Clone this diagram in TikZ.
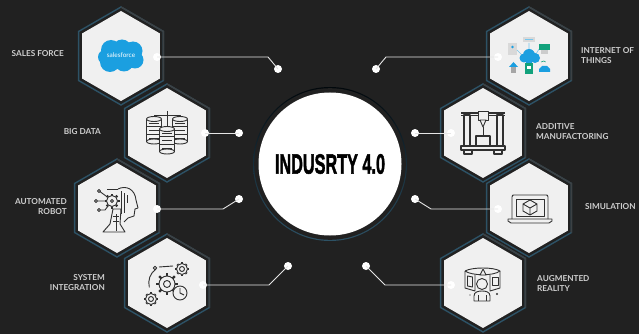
\documentclass[tikz,border=0pt]{standalone}
\usepackage{fontspec}
\setmainfont{Lato}
\newfontfamily\titlefont[BoldFeatures={FakeBold=2}]{Liberation Sans}
\usetikzlibrary{shapes.geometric}
\definecolor{bgc}{HTML}{212121}
\definecolor{hexfill}{HTML}{F0F0F0}
\definecolor{teal1}{HTML}{2D5266}
\definecolor{gray1}{HTML}{3C4144}
\definecolor{labelc}{HTML}{CFCFCF}
\definecolor{ink}{HTML}{303030}
\definecolor{sfblue}{HTML}{1B9FE0}
\definecolor{iotgreen}{HTML}{12A27C}
\tikzset{
 outerhex/.style={regular polygon,regular polygon sides=6,regular polygon rotate=-30,minimum size=98pt,inner sep=0pt,outer sep=0pt,draw=teal1,line width=1.4pt},
 innerhex/.style={regular polygon,regular polygon sides=6,regular polygon rotate=-30,minimum size=90pt,inner sep=0pt,outer sep=0pt,fill=hexfill},
 dotnode/.style={circle,fill=white,minimum size=8pt,inner sep=0pt},
 startdot/.style={circle,fill=white,minimum size=8pt,inner sep=0pt},
 link/.style={draw=white!90!black,line width=.9pt},
 lab/.style={text=labelc,font=\fontsize{8.2}{10}\selectfont\bfseries,inner sep=0pt},
 labl/.style={lab,anchor=west,align=left},
 labr/.style={lab,anchor=east,align=right},
 ic/.style={draw=ink,line width=.9pt,line join=round,fill=none},
 icf/.style={draw=ink,line width=.9pt,line join=round,fill=hexfill},
}
\newcommand{\hexa}[3]{%
 \node[outerhex] (#1o) at (#2,#3) {};
 \draw[gray1,line width=1.4pt] (#1o.corner 2) -- (#1o.corner 1) -- (#1o.corner 6);
 \node[innerhex] (#1) at (#2,#3) {};
}
\newcommand{\cyl}[2]{%
 \foreach \k in {0,1,2}{
  \draw[icf] (#1-7.5,#2+\k*7.5+2) rectangle (#1+7.5,#2+\k*7.5+9.5);
  \draw[ic] (#1-5,#2+\k*7.5+6) -- (#1+5,#2+\k*7.5+6);
 }
 \draw[icf] (#1,#2+2) ellipse (7.5 and 2.5);
 \draw[icf] (#1,#2+24.5) ellipse (7.5 and 2.5);
}
% gear: x, y, radius, tooth length
\newcommand{\gearicon}[4]{%
 \foreach \a in {0,45,...,315}{
  \draw[ink,line width=2.2pt] ({#1+#3*cos(\a)},{#2+#3*sin(\a)}) -- ({#1+(#3+#4)*cos(\a)},{#2+(#3+#4)*sin(\a)});
 }
 \draw[icf] (#1,#2) circle (#3);
}
\begin{document}
\begin{tikzpicture}[x=1pt,y=-1pt]
\useasboundingbox (0,0) rectangle (639,334);
\fill[bgc] (0,0) rectangle (639,334);
% centre
\node[circle,minimum size=154pt,inner sep=0pt,top color=gray1!130,bottom color=teal1,draw=none] (ring) at (330,164) {};
\node[circle,minimum size=151.6pt,inner sep=0pt,fill=bgc] (gap) at (330,164) {};
\node[circle,minimum size=143pt,inner sep=0pt,fill=white,font=\titlefont\bfseries,text=black] (hub) at (330,164) {\scalebox{.625}[1.08]{\fontsize{26}{26}\selectfont INDUSRTY 4.0}};
% hexagons
\hexa{hsales}{121}{56}
\hexa{hbig}{167}{133}
\hexa{hrobot}{117}{208}
\hexa{hsys}{167}{283}
\hexa{hiot}{529}{56}
\hexa{hadd}{483}{133}
\hexa{hsim}{529}{208}
\hexa{har}{483}{283}
% connectors
\node[startdot] (s1) at (157,57) {};
\node[dotnode] (d1) at (278,69) {};
\coordinate (e1) at (268,57);
\draw[link] (s1.center) -- (e1) -- (d1.center);
\node[startdot] (s2) at (205,133) {};
\node[dotnode] (d2) at (239,133) {};
\draw[link] (s2.center) -- (d2.center);
\node[startdot] (s3) at (157,209) {};
\node[dotnode] (d3) at (239,199) {};
\coordinate (e3) at (223,209);
\draw[link] (s3.center) -- (e3) -- (d3.center);
\node[startdot] (s4) at (203,285) {};
\node[dotnode] (d4) at (288,266) {};
\coordinate (e4) at (269,285);
\draw[link] (s4.center) -- (e4) -- (d4.center);
\node[startdot] (s5) at (498,57) {};
\node[dotnode] (d5) at (376,69) {};
\coordinate (e5) at (386,57);
\draw[link] (s5.center) -- (e5) -- (d5.center);
\node[startdot] (s6) at (451,133) {};
\node[dotnode] (d6) at (415,133) {};
\draw[link] (s6.center) -- (d6.center);
\node[startdot] (s7) at (498,209) {};
\node[dotnode] (d7) at (415,199) {};
\coordinate (e7) at (431,209);
\draw[link] (s7.center) -- (e7) -- (d7.center);
\node[startdot] (s8) at (451,285) {};
\node[dotnode] (d8) at (366,266) {};
\coordinate (e8) at (385,285);
\draw[link] (s8.center) -- (e8) -- (d8.center);
% labels
\node[labr] (l1) at (64,54) {SALES FORCE};
\node[labr] (l2) at (101,132) {BIG DATA};
\node[labr] (l3) at (67,207) {AUTOMATED\\ROBOT};
\node[labr] (l4) at (105,283) {SYSTEM\\INTEGRATION};
\node[labl] (l5) at (581,56) {INTERNET OF\\THINGS};
\node[labl] (l6) at (536,132) {ADDITIVE\\MANUFACTORING};
\node[labl] (l7) at (585,207) {SIMULATION};
\node[labl] (l8) at (537,283) {AUGMENTED\\REALITY};
% salesforce icon
\fill[sfblue] (111,50) circle (10) (122,49) circle (9.5) (133,51) circle (9.5) (135,60) circle (8.5) (124,62) circle (9.5) (110,62) circle (10) (105,57) circle (7);
\node[text=white,inner sep=0pt,font=\fontsize{6.5}{7}\selectfont] (sftext) at (121,55) {salesforce};
% big data icon
\draw[ic] (167,111) -- (167,127) (154,118) -- (154,115) -- (180,115) -- (180,118);
\cyl{154}{117}
\cyl{180}{117}
\cyl{167}{127}
% robot icon
\draw[ic] (118,189) .. controls (126,185) and (135,189) .. (136,200) -- (138,208) -- (135,209) -- (134,216) -- (128,218) -- (124,222);
\draw[ic] (121,191) -- (121,214) (124,193) -- (124,213) (127,195) -- (127,203);
\gearicon{112}{201}{5.5}{2}
\draw[ic] (112,201) circle (1.5);
\draw[ic] (107,189) -- (118,189);
\draw[ic] (99,191) circle (1.6) (100.5,192) -- (106,196) (96,201) circle (1.6) (98,201) -- (105,201) (99,210) circle (1.6) (101,210) -- (105,210) -- (108,206);
\draw[ic] (113,209) -- (121,209) -- (120,224) -- (125,232) -- (103,232) -- (110,224) -- (112,214) -- cycle;
\draw[ic] (116,214) -- (116,231) (113,216) -- (119,216) (113,221) -- (119,221);
% gears icon
\gearicon{167}{284}{8}{3}
\draw[ic] (167,284) circle (3.5);
\draw[ic] (156,269) arc (235:165:17);
\draw[ic] (159,267) -- (173,266);
\draw[ic] (155,268) circle (1.8);
\gearicon{182}{269}{5.5}{1.2}
\draw[ic] (182,269) circle (2.5);
\gearicon{151}{299}{5.5}{1.2}
\draw[ic] (151,299) circle (2.5);
\draw[icf] (180,293) circle (7); \draw[ic] (180,288) -- (180,293) -- (184,295);
% iot icon
\fill[black!15] (508,43) rectangle (517,55);
\fill[sfblue] (512.5,47) circle (1.3);
\fill[black!15] (523,37) rectangle (535,42);
\draw[sfblue!60,line width=.6pt] (525,39.5) -- (533,39.5) (517,50) -- (522,55) (529,43) -- (529,50) (539,49) -- (536,54);
\fill[iotgreen] (539,44) rectangle (550,50);
\fill[black!20] (541,50) rectangle (548,54);
\fill[sfblue] (524,58) circle (4.5) (529,55) circle (6) (535,58) circle (5) (529,60) circle (4);
\fill[iotgreen] (525,63) rectangle (533,74);
\fill[white] (527,66) rectangle (531,69);
\fill[sfblue] (509,67) -- (513.5,62) -- (518,67) -- cycle;
\fill[black!35] (511,67) rectangle (516,73);
\fill[sfblue] (539,69) -- (542,66) -- (547,66) -- (550,69) -- (550,72) -- (539,72) -- cycle;
\draw[iotgreen,line width=.6pt] (541,62) arc (220:320:3);
% printer icon
\draw[ic,line width=1.1pt] (461,113) -- (505,113) (461,115.5) -- (505,115.5);
\draw[ic,line width=1.1pt] (464,115) rectangle (470,146) (497,115) rectangle (503,146);
\draw[icf] (478,111) rectangle (488,120);
\draw[icf] (480,120) -- (486,120) -- (483,127) -- cycle;
\draw[ic] (483,127) -- (483,135);
\draw[ic,line width=1.1pt] (476,136) rectangle (490,146);
\draw[ic,line width=1.3pt] (461,146) rectangle (505,150);
\draw[ic,line width=1.1pt] (464,150) -- (464,154) -- (472,154) -- (472,150) (494,150) -- (494,154) -- (502,154) -- (502,150);
% laptop icon
\draw[ic] (512,219) -- (512,197) .. controls (512,195) and (513,195) .. (514,195) -- (546,195) .. controls (547,195) and (548,195) .. (548,197) -- (548,219);
\draw[ic] (516,199) rectangle (544,216);
\draw[ic] (508,219) -- (552,219) -- (552,221) -- (549,223) -- (511,223) -- (508,221) -- cycle;
\draw[ic] (530,200) -- (537,204) -- (537,211) -- (530,215) -- (523,211) -- (523,204) -- cycle (523,204) -- (530,208) -- (537,204) (530,208) -- (530,215);
% ar icon
\draw[ic] (465,271) .. controls (472,267) and (494,267) .. (500,271) .. controls (494,276) and (472,276) .. (465,271);
\draw[ic] (465,271) -- (465,288) -- (475,291) -- (475,275) (500,271) -- (500,288) -- (490,291) -- (490,275);
\draw[ic] (467.5,276) -- (472.5,277) -- (472.5,287) -- (467.5,286) -- cycle;
\draw[ic] (492.5,277) rectangle (498,285);
\draw[icf] (483,269) -- (480,275) -- (486,275) -- cycle;
\draw[icf] (482,284) circle (5.5);
\draw[ic] (474,301) -- (474,296) .. controls (474,292) and (478,291) .. (482,291) .. controls (486,291) and (490,292) .. (490,296) -- (490,301) -- cycle;
\draw[ic] (478,295) -- (478,301) (486,295) -- (486,301);
\fill[ink] (497,294) circle (1.2) (470,295) circle (.6);
\end{tikzpicture}
\end{document}
